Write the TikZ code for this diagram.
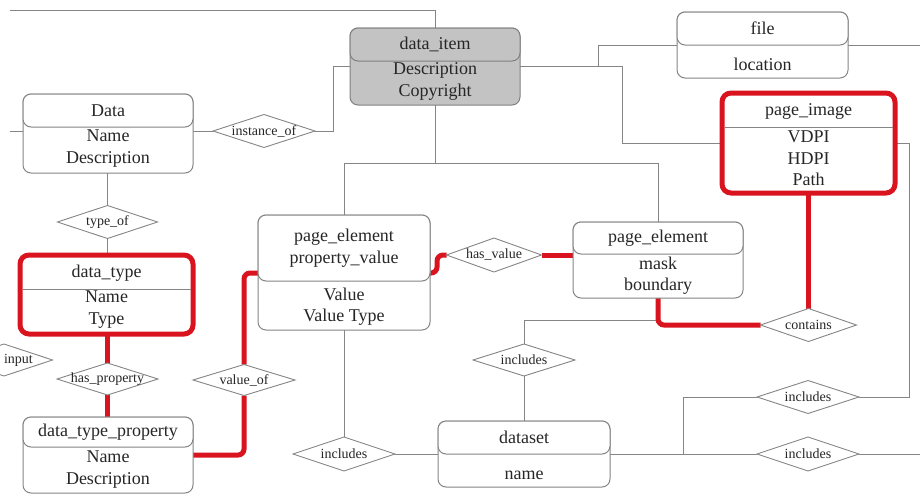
\documentclass[tikz,border=0pt]{standalone}
\usepackage{fontspec}
\setmainfont{Liberation Serif}
\usetikzlibrary{shapes.geometric,backgrounds}
\definecolor{lgray}{HTML}{858585}
\definecolor{ered}{HTML}{D9141E}
\definecolor{txt}{HTML}{262626}
\definecolor{ifill}{HTML}{C3C3C3}
\begin{document}
\begin{tikzpicture}[x=1pt,y=-1pt,
  conn/.style={draw=lgray, line width=1pt},
  rconn/.style={draw=ered, line width=5pt, rounded corners=6pt},
  ebox/.style={draw=lgray, line width=1pt, rounded corners=8pt, fill=white, inner sep=0pt, outer sep=0pt},
  gbox/.style={ebox, fill=ifill, draw=gray},
  rbox/.style={draw=ered, line width=5pt, rounded corners=9pt, fill=white, inner sep=0pt, outer sep=0pt},
  divl/.style={draw=lgray, line width=0.8pt, shorten <=2.5pt, shorten >=2.5pt},
  ttl/.style={font=\fontsize{18}{21.5}\selectfont, text=txt, align=center, inner sep=0pt},
  rel/.style={diamond, draw=lgray, line width=0.9pt, fill=white, inner sep=0pt, outer sep=0pt},
  rtxt/.style={font=\fontsize{14}{16}\selectfont, text=txt, inner sep=0pt},
]
\useasboundingbox (0,0) rectangle (920,498);
\clip (0,0) rectangle (920,498);

% ---------- entities ----------
% Data
\node[ebox, minimum width=170, minimum height=79] (data) at (108,133.5) {};
\node[ebox, ttl, minimum width=170, minimum height=33, anchor=north] (dataT) at (data.north) {Data};
\node[ttl] (dataA) at (108,148.5) {Name\\Description};

% data_item
\node[gbox, minimum width=170, minimum height=77] (dataitem) at (435,66.5) {};
\node[gbox, ttl, minimum width=170, minimum height=33, anchor=north] (dataitemT) at (dataitem.north) {data\_item};
\node[ttl] (dataitemA) at (435,81.5) {Description\\Copyright};

% file
\node[ebox, minimum width=171, minimum height=66] (file) at (762.5,45) {};
\node[ebox, ttl, minimum width=171, minimum height=33, anchor=north] (fileT) at (file.north) {file};
\node[ttl] (fileA) at (762.5,64) {location};

% page_image (highlighted)
\node[rbox, minimum width=173, minimum height=100] (pi) at (808.5,143) {};
\draw[divl] (pi.west |- 0,127) -- (pi.east |- 0,127);
\node[ttl] (piT) at (808.5,111) {page\_image};
\node[ttl] (piA) at (808.5,158.5) {VDPI\\HDPI\\Path};

% data_type (highlighted)
\node[rbox, minimum width=173, minimum height=79] (dt) at (106.5,294.5) {};
\draw[divl] (dt.west |- 0,289) -- (dt.east |- 0,289);
\node[ttl] (dtT) at (106.5,273) {data\_type};
\node[ttl] (dtA) at (106.5,309.5) {Name\\Type};

% page_element property_value
\node[ebox, minimum width=172, minimum height=115] (pepv) at (344,272.5) {};
\node[ebox, ttl, minimum width=172, minimum height=66, anchor=north] (pepvT) at (pepv.north) {page\_element\\property\_value};
\node[ttl] (pepvA) at (344,306.5) {Value\\Value Type};

% page_element
\node[ebox, minimum width=170, minimum height=76] (pe) at (658,260) {};
\node[ebox, ttl, minimum width=170, minimum height=32, anchor=north] (peT) at (pe.north) {page\_element};
\node[ttl] (peA) at (658,275.5) {mask\\boundary};

% data_type_property
\node[ebox, minimum width=170, minimum height=76] (dtp) at (108,455) {};
\node[ebox, ttl, minimum width=170, minimum height=30, anchor=north] (dtpT) at (dtp.north) {data\_type\_property};
\node[ttl] (dtpA) at (108,469.5) {Name\\Description};

% dataset
\node[ebox, minimum width=172, minimum height=66] (dataset) at (524,454) {};
\node[ebox, ttl, minimum width=172, minimum height=33, anchor=north] (datasetT) at (dataset.north) {dataset};
\node[ttl] (datasetA) at (524,475) {name};

% ---------- relationships ----------
\node[rel, minimum width=102, minimum height=33] (inst) at (264,131) {};
\node[rtxt] at (inst) {instance\_of};
\node[rel, minimum width=100, minimum height=33] (typeof) at (107.5,222) {};
\node[rtxt] at (typeof) {type\_of};
\node[rel, minimum width=97, minimum height=32] (input) at (4,360) {};
\node[rtxt, anchor=east] (inputT) at (33,360) {input};
\node[rel, minimum width=101, minimum height=32] (hasprop) at (107.5,379) {};
\node[rtxt] at (hasprop) {has\_property};
\node[rel, minimum width=102, minimum height=31] (valueof) at (244,380) {};
\node[rtxt] at (valueof) {value\_of};
\node[rel, minimum width=95, minimum height=34] (hasvalue) at (494,255) {};
\node[rtxt] at (hasvalue) {has\_value};
\node[rel, minimum width=96, minimum height=33] (contains) at (808.5,325) {};
\node[rtxt] at (contains) {contains};
\node[rel, minimum width=102, minimum height=32] (incm) at (524,360) {};
\node[rtxt] at (incm) {includes};
\node[rel, minimum width=102, minimum height=34] (incbl) at (344,454) {};
\node[rtxt] at (incbl) {includes};
\node[rel, minimum width=102, minimum height=33] (incur) at (808,397) {};
\node[rtxt] at (incur) {includes};
\node[rel, minimum width=102, minimum height=34] (inclr) at (808,454) {};
\node[rtxt] at (inclr) {includes};

% ---------- junction / free-end coordinates ----------
\coordinate (tl) at (10,10);
\coordinate (ll) at (10,131);
\coordinate (j1) at (333,66.5);
\coordinate (j2) at (435,163);
\coordinate (j3) at (598,66.5);
\coordinate (j4) at (622,143);
\coordinate (j5) at (909,143);
\coordinate (j6) at (683,454);
\coordinate (j7) at (658,320);
\coordinate (re1) at (920,45);
\coordinate (re2) at (920,454);

% ---------- connectors ----------
\begin{pgfonlayer}{background}
\draw[conn] (tl) -| (dataitem.north);
\draw[conn] (ll) -- (data.west |- ll);
\draw[conn] (data.east |- inst) -- (inst.west);
\draw[conn] (inst.east) -| (j1) -- (dataitem.west);
\draw[conn] (typeof.north |- data.south) -- (typeof.north);
\draw[conn] (typeof.south) -- (typeof.south |- dt.north);
\draw[conn] (dataitem.south) -- (j2) -| (pe.north);
\draw[conn] (j2) -| (pepv.north);
\draw[conn] (dataitem.east) -- (j3) |- (file.west);
\draw[conn] (j3) -| (j4) -- (pi.west);
\draw[conn] (file.east) -- (re1);
\draw[conn] (pi.east) -- (j5) |- (incur.east);
\draw[conn] (incur.west) -| (j6);
\draw[conn] (dataset.east) -- (inclr.west);
\draw[conn] (inclr.east) -- (re2);
\draw[conn] (pepv.south) -- (incbl.north);
\draw[conn] (incbl.east) -- (dataset.west);
\draw[conn] (incm.south) -- (dataset.north);
\draw[conn] (incm.north) |- (j7);
% highlighted path
\draw[rconn] (hasprop.north |- dt.south) -- (hasprop.north);
\draw[rconn] (hasprop.south) -- (hasprop.south |- dtp.north);
\draw[rconn] (dtp.east) -| (valueof.south);
\draw[rconn] (valueof.north) |- (pepv.west |- 0,273);
\draw[rconn] (pepv.east |- 0,273) -- (437,273) -- (437,255) -- (hasvalue.west);
\draw[rconn] (hasvalue.east) -- (pe.west |- hasvalue);
\draw[rconn] (pe.south) |- (contains.west);
\draw[rconn] (pi.south) -- (contains.north);
\end{pgfonlayer}
\end{tikzpicture}
\end{document}
